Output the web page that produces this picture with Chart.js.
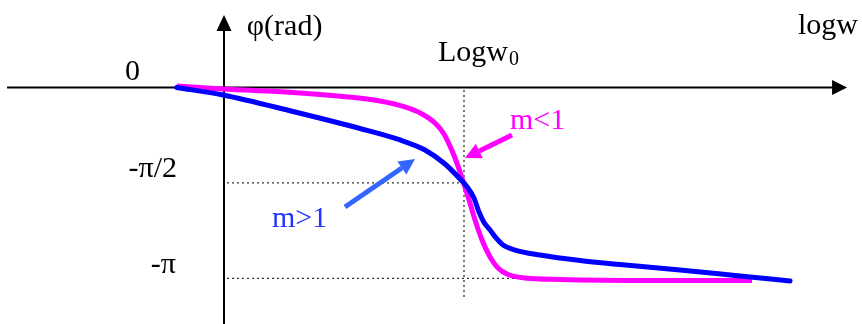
<!DOCTYPE html>
<html>
<head>
<meta charset="utf-8">
<script src="https://cdn.jsdelivr.net/npm/chart.js@4.4.1/dist/chart.umd.min.js"></script>
<style>
  html, body { margin: 0; padding: 0; background: #fff; }
  #wrap { width: 862px; height: 324px; }
</style>
</head>
<body>
<div id="wrap"><canvas id="c" width="862" height="324"></canvas></div>
<script>
// Phase response of a second-order system, x = log w, y = phase (rad); log w0 = 2
const LOGW0 = 2;
const HALF_PI = -Math.PI / 2;
const FULL_PI = -Math.PI;

// damping m < 1 (sharp transition)
const underX = [-0.394, -0.008, 0.575, 0.992, 1.3, 1.508, 1.65, 1.758, 1.833, 1.883, 1.925, 1.967, 2.0, 2.042, 2.092, 2.15, 2.217, 2.283, 2.367, 2.508, 2.8, 3.55, 4.4];
const underY = [0.025, -0.025, -0.082, -0.148, -0.222, -0.321, -0.436, -0.585, -0.766, -0.963, -1.161, -1.391, -1.589, -1.852, -2.182, -2.511, -2.791, -2.972, -3.079, -3.137, -3.161, -3.178, -3.178];

// damping m > 1 (slow transition)
const overX = [-0.394, -0.008, 0.575, 1.133, 1.467, 1.675, 1.842, 1.967, 2.033, 2.083, 2.125, 2.167, 2.217, 2.267, 2.325, 2.425, 2.633, 2.967, 3.3, 3.8, 4.3, 4.717];
const overY = [0, -0.123, -0.395, -0.675, -0.864, -1.029, -1.26, -1.507, -1.655, -1.82, -2.051, -2.223, -2.346, -2.478, -2.593, -2.676, -2.758, -2.849, -2.915, -3.005, -3.104, -3.186];

const pts = (xs, ys) => xs.map((x, i) => ({ x: x, y: ys[i] }));

const SERIF = '"Liberation Serif", "Times New Roman", serif';

// axes, guides, arrows and labels drawn around the curves
const decor = {
  id: 'decor',
  beforeDatasetsDraw(chart) {
    const ctx = chart.ctx, xs = chart.scales.x, ys = chart.scales.y;
    const X = v => xs.getPixelForValue(v), Y = v => ys.getPixelForValue(v);
    ctx.save();
    // dotted guides at log w0, -pi/2 and -pi
    ctx.strokeStyle = '#333';
    ctx.lineWidth = 1.3;
    ctx.setLineDash([2, 3]);
    ctx.beginPath();
    ctx.moveTo(X(0.025), Y(HALF_PI)); ctx.lineTo(X(LOGW0), Y(HALF_PI));
    ctx.moveTo(X(0.025), Y(FULL_PI)); ctx.lineTo(X(2.6), Y(FULL_PI));
    ctx.moveTo(X(LOGW0), Y(-0.04)); ctx.lineTo(X(LOGW0), Y(-3.5));
    ctx.stroke();
    ctx.setLineDash([]);
    // axes
    ctx.strokeStyle = '#000';
    ctx.fillStyle = '#000';
    ctx.lineWidth = 2;
    ctx.beginPath();
    ctx.moveTo(X(-1.808), Y(0)); ctx.lineTo(X(5.07), Y(0));
    ctx.moveTo(X(0), Y(-4)); ctx.lineTo(X(0), Y(1.0));
    ctx.stroke();
    // arrow heads
    const xt = X(5.192), y0 = Y(0);
    ctx.beginPath();
    ctx.moveTo(xt, y0); ctx.lineTo(xt - 15, y0 - 7.5); ctx.lineTo(xt - 15, y0 + 7.5); ctx.closePath(); ctx.fill();
    const x0 = X(0), yt = Y(1.194);
    ctx.beginPath();
    ctx.moveTo(x0, yt); ctx.lineTo(x0 - 7.5, yt + 16); ctx.lineTo(x0 + 7.5, yt + 16); ctx.closePath(); ctx.fill();
    ctx.restore();
  },
  afterDatasetsDraw(chart) {
    const ctx = chart.ctx, xs = chart.scales.x, ys = chart.scales.y;
    const X = v => xs.getPixelForValue(v), Y = v => ys.getPixelForValue(v);
    ctx.save();
    // pointer arrows
    function pointer(x1, y1, x2, y2, color) {
      const px1 = X(x1), py1 = Y(y1), px2 = X(x2), py2 = Y(y2);
      const a = Math.atan2(py2 - py1, px2 - px1);
      const L = 16, W = 8;
      const bx = px2 - L * Math.cos(a), by = py2 - L * Math.sin(a);
      ctx.strokeStyle = color; ctx.fillStyle = color;
      ctx.lineWidth = 5; ctx.lineCap = 'butt';
      ctx.beginPath(); ctx.moveTo(px1, py1); ctx.lineTo(bx, by); ctx.stroke();
      ctx.beginPath();
      ctx.moveTo(px2, py2);
      ctx.lineTo(bx + W * Math.sin(a), by - W * Math.cos(a));
      ctx.lineTo(bx - W * Math.sin(a), by + W * Math.cos(a));
      ctx.closePath(); ctx.fill();
    }
    pointer(1.008, -1.968, 1.592, -1.177, '#3366ff');
    pointer(2.4, -0.782, 2.008, -1.161, '#ff00ff');

    // labels
    function label(text, x, y, align, color, size) {
      ctx.font = (size || 30) + 'px ' + SERIF;
      ctx.fillStyle = color || '#000';
      ctx.textAlign = align;
      ctx.textBaseline = 'alphabetic';
      ctx.fillText(text, X(x), Y(y));
      return ctx.measureText(text).width;
    }
    label('φ(rad)', 0.19, 0.864, 'left');
    label('logw', 4.783, 0.881, 'left');
    const w = label('Logw', 1.783, 0.436, 'left');
    ctx.font = '20px ' + SERIF;
    ctx.fillStyle = '#000';
    ctx.textAlign = 'left';
    ctx.fillText('0', X(1.783) + w + 1, Y(0.436) + 4);
    label('0', -0.825, 0.123, 'left');
    label('-π/2', -0.392, -1.474, 'right');
    label('-π', -0.4, -3.055, 'right');
    label('m>1', 0.4, -2.297, 'left', '#2233ff');
    label('m<1', 2.383, -0.683, 'left', '#ff00ff');
    ctx.restore();
  }
};

new Chart(document.getElementById('c'), {
  type: 'scatter',
  data: {
    datasets: [
      { label: 'm>1', data: pts(overX, overY), showLine: true, borderColor: '#0000ff', borderWidth: 5,
        pointRadius: 0, cubicInterpolationMode: 'monotone', borderCapStyle: 'round', borderJoinStyle: 'round', order: 0 },
      { label: 'm<1', data: pts(underX, underY), showLine: true, borderColor: '#ff00ff', borderWidth: 5,
        pointRadius: 0, cubicInterpolationMode: 'monotone', borderCapStyle: 'butt', borderJoinStyle: 'round', order: 1 }
    ]
  },
  options: {
    responsive: false,
    animation: false,
    layout: { padding: 0 },
    plugins: { legend: { display: false }, tooltip: { enabled: false } },
    scales: {
      x: { type: 'linear', display: false, min: -224 / 120, max: (862 - 224) / 120 },
      y: { type: 'linear', display: false, min: -236.5 / 60.73, max: 87.5 / 60.73 }
    }
  },
  plugins: [decor]
});
</script>
</body>
</html>
